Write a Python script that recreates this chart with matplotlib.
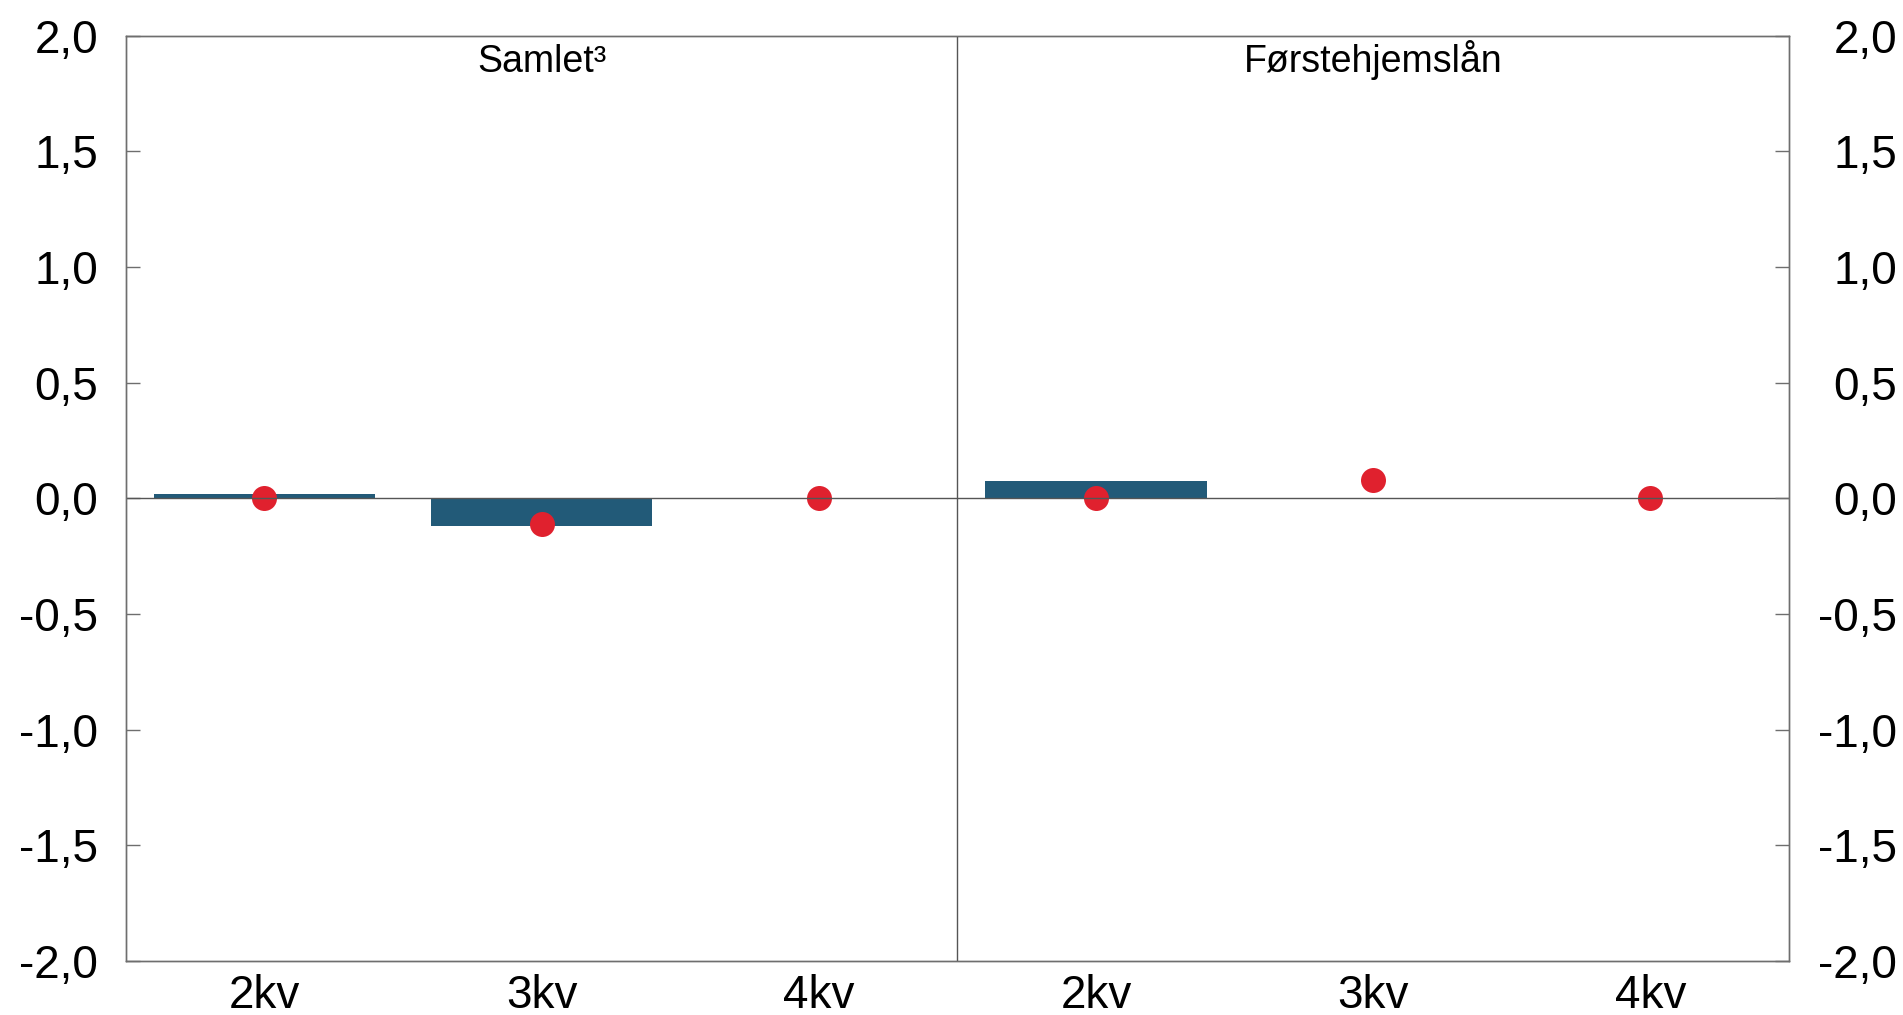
import numpy as np
import matplotlib
matplotlib.use("Agg")
from matplotlib import pyplot as plt

plt.rcParams['font.family'] = ['Liberation Sans', 'DejaVu Sans']

# data
panels = ["Samlet³", "Førstehjemslån"]
quarters = ["2kv", "3kv", "4kv"]
bar_samlet = [0.02, -0.12, np.nan]
bar_forste = [0.075, np.nan, np.nan]
dot_samlet = [0.0, -0.11, 0.0]
dot_forste = [0.0, 0.08, 0.0]
yticks = [-2.0, -1.5, -1.0, -0.5, 0.0, 0.5, 1.0, 1.5, 2.0]

bar_col = "#225a78"
dot_col = "#e0212e"
line_col = "#6e6e6e"

labels = quarters + quarters
bars = bar_samlet + bar_forste
dots = dot_samlet + dot_forste
x = np.arange(len(labels))

fig = plt.figure(figsize=(19.03, 10.15), dpi=100)
ax = fig.add_axes([0.0661, 0.0532, 0.874, 0.9116])

ax.bar(x, bars, width=0.8, color=bar_col, zorder=2)
ax.plot(x, dots, "o", color=dot_col, markersize=18, markeredgewidth=0, zorder=3)
ax.axhline(0, color="#555555", lw=1.0, zorder=4)
ax.axvline(2.5, color="#555555", lw=1.0, zorder=4)

ax.set_xlim(-0.5, 5.5)
ax.set_ylim(-2, 2)
ax.set_xticks(x)
ax.set_xticklabels(labels)
ax.tick_params(axis="x", length=0, pad=9, labelsize=33)

fmt = lambda v: ("%.1f" % v).replace(".", ",")
ax.set_yticks(yticks)
ax.set_yticklabels([fmt(v) for v in yticks])
ax.tick_params(axis="y", direction="in", length=10, width=1, color=line_col,
               labelsize=33, pad=20)

# right axis: labels right-aligned near the figure edge
ax2 = ax.twinx()
ax2.set_ylim(-2, 2)
ax2.set_yticks(yticks)
ax2.set_yticklabels([fmt(v) for v in yticks], ha="right")
ax2.tick_params(axis="y", direction="in", length=10, width=1, color=line_col,
                labelsize=33, pad=78)

for a in (ax, ax2):
    for s in a.spines.values():
        s.set_color(line_col)
        s.set_linewidth(1.0)

for i, name in enumerate(panels):
    ax.text(1 + 3 * i, 1.844, name, ha="center", va="baseline", fontsize=27)

fig.savefig("out.png", dpi=100)
